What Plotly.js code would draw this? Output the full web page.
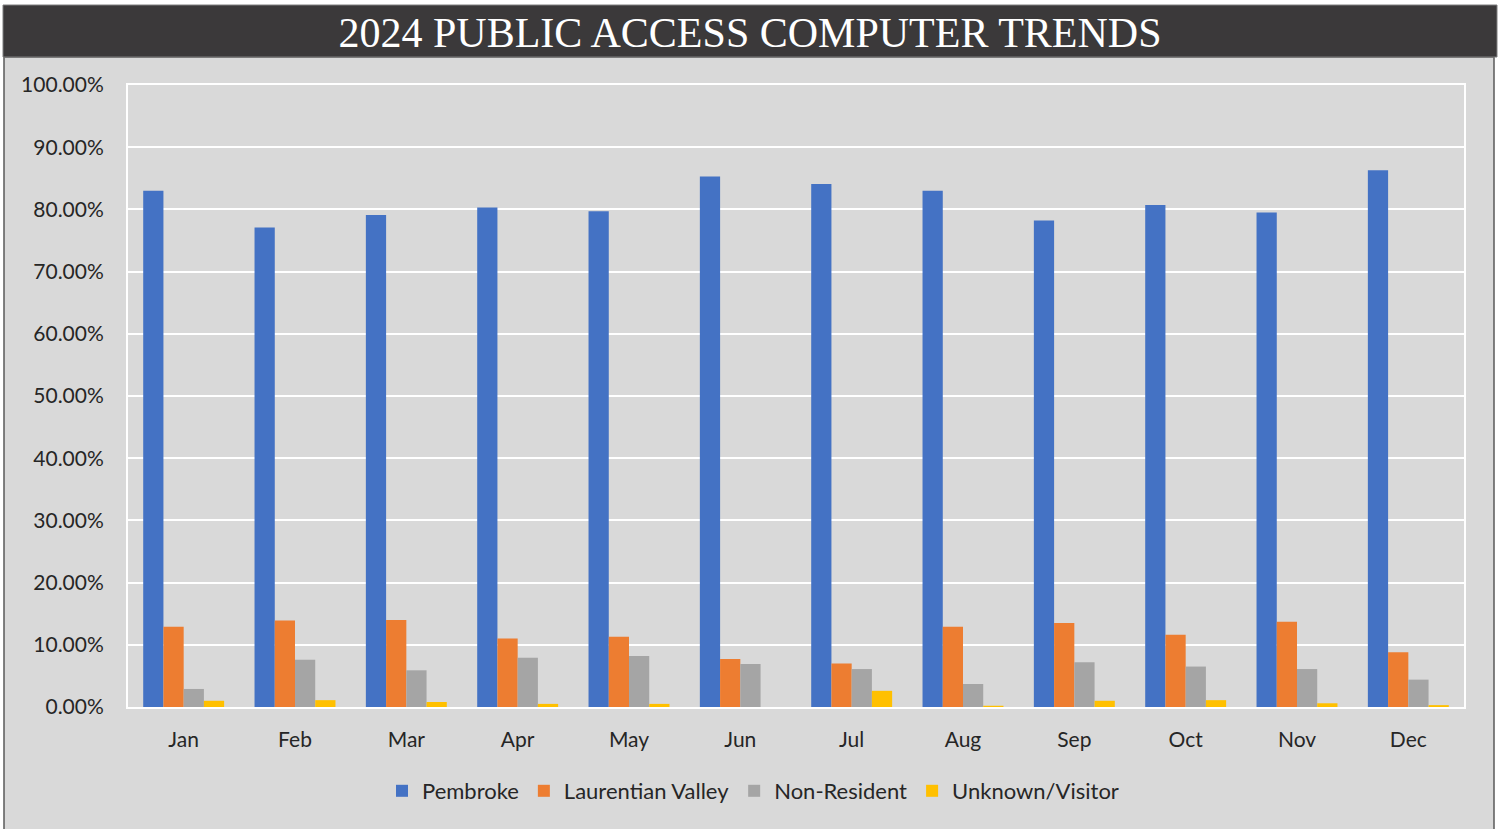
<!DOCTYPE html>
<html>
<head>
<meta charset="utf-8">
<script src="https://cdn.plot.ly/plotly-3.0.1.min.js"></script>
<style>html,body{margin:0;padding:0;background:#fff;}#chart{width:1504px;height:829px;}</style>
</head>
<body>
<div id="chart"></div>
<script>
const months = ["Jan","Feb","Mar","Apr","May","Jun","Jul","Aug","Sep","Oct","Nov","Dec"];
const pembroke = [0.830,0.771,0.791,0.803,0.797,0.853,0.841,0.830,0.782,0.807,0.795,0.863];
const laurentianValley = [0.129,0.139,0.140,0.110,0.113,0.077,0.070,0.129,0.135,0.116,0.137,0.088];
const nonResident = [0.029,0.076,0.059,0.079,0.082,0.069,0.061,0.037,0.072,0.065,0.061,0.044];
const unknownVisitor = [0.010,0.011,0.008,0.005,0.005,0.000,0.026,0.002,0.010,0.011,0.006,0.003];
const seriesNames = ["Pembroke","Laurentian Valley","Non-Resident","Unknown/Visitor"];
const seriesColors = ["#4472c4","#ed7d31","#a5a5a5","#ffc000"];
const seriesValues = [pembroke, laurentianValley, nonResident, unknownVisitor];

const W = 1504, H = 829;
const L = 128, R = 1464, T = 85, B = 707;
const px2x = p => (p - L) / (R - L);
const px2y = p => (B - p) / (B - T);

const traces = seriesValues.map((vals, i) => ({
  type: 'bar',
  name: seriesNames[i],
  x: months,
  y: vals,
  marker: {color: seriesColors[i], line: {width: 0}},
  hoverinfo: 'x+y+name'
}));

const layout = {
  width: W, height: H,
  margin: {l: L, r: W - R, t: T, b: H - B, pad: 0},
  paper_bgcolor: '#ffffff',
  plot_bgcolor: '#d9d9d9',
  barmode: 'group',
  bargap: 0.273,
  bargroupgap: 0,
  font: {family: 'Lato, "Noto Sans", sans-serif', size: 21, color: '#262626'},
  title: {
    text: '2024 PUBLIC ACCESS COMPUTER TRENDS',
    font: {family: '"Liberation Serif", "DejaVu Serif", serif', size: 42, color: '#ffffff'},
    x: 750 / W, xanchor: 'center', xref: 'container',
    y: 1 - 32 / H, yanchor: 'middle', yref: 'container'
  },
  xaxis: {
    type: 'category',
    showgrid: false,
    showline: true, mirror: true, linecolor: '#ffffff', linewidth: 2,
    ticks: '', ticklabelstandoff: 13,
    tickfont: {size: 21, color: '#262626'},
    zeroline: false, fixedrange: true
  },
  yaxis: {
    range: [0, 1], dtick: 0.1, tick0: 0,
    tickformat: '.2%',
    showgrid: true, gridcolor: '#ffffff', gridwidth: 2,
    showline: true, mirror: true, linecolor: '#ffffff', linewidth: 2,
    ticks: '', ticklabelstandoff: 18,
    tickfont: {size: 21, color: '#262626'},
    zeroline: false, fixedrange: true
  },
  legend: {
    orientation: 'h',
    x: px2x(753), xanchor: 'center',
    y: px2y(791), yanchor: 'middle',
    font: {size: 22, color: '#262626'},
    bgcolor: 'rgba(0,0,0,0)',
    itemwidth: 30,
    traceorder: 'normal'
  },
  shapes: [
    {type: 'rect', xref: 'paper', yref: 'paper', layer: 'below',
     x0: px2x(4), x1: px2x(1494), y0: px2y(840), y1: px2y(57),
     fillcolor: '#d9d9d9', line: {color: '#595959', width: 1.5}},
    {type: 'rect', xref: 'paper', yref: 'paper', layer: 'below',
     x0: px2x(3), x1: px2x(1497), y0: px2y(57), y1: px2y(5),
     fillcolor: '#3b393a', line: {color: '#7f7f7f', width: 1}}
  ],
  showlegend: true
};

Plotly.newPlot('chart', traces, layout, {displayModeBar: false, staticPlot: true});
</script>
</body>
</html>
